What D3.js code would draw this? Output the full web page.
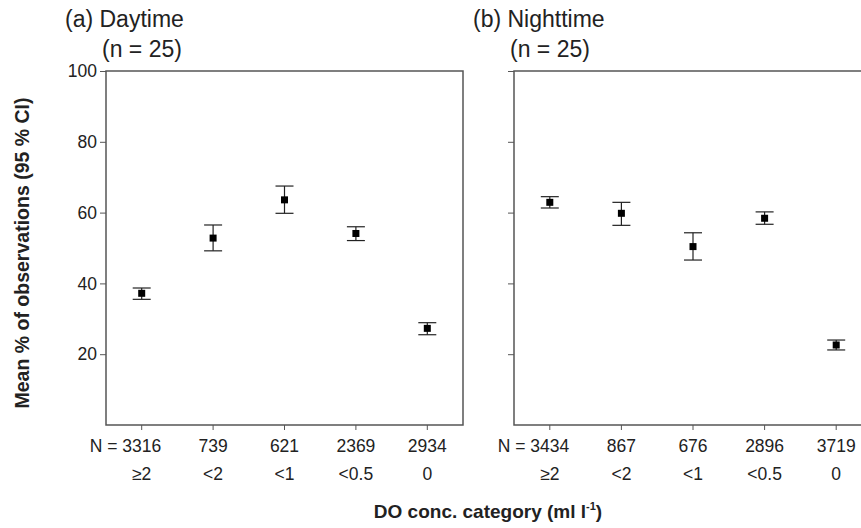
<!DOCTYPE html>
<html>
<head>
<meta charset="utf-8">
<script src="https://cdn.jsdelivr.net/npm/d3@7"></script>
<style>
  body { margin: 0; background: #fff; }
  svg { display: block; font-family: "Liberation Sans", Arial, sans-serif; }
</style>
</head>
<body>
<div id="chartContainer"></div>
<script>
var categories = ["\u22652", "<2", "<1", "<0.5", "0"];
var yTicks = [20, 40, 60, 80, 100];

var dayN = [3316, 739, 621, 2369, 2934];
var dayMean = [37.2, 52.8, 63.6, 54.1, 27.3];
var dayLow = [35.5, 49.2, 59.8, 52.1, 25.5];
var dayHigh = [38.7, 56.5, 67.5, 56.0, 28.9];

var nightN = [3434, 867, 676, 2896, 3719];
var nightMean = [62.9, 59.8, 50.4, 58.4, 22.6];
var nightLow = [61.3, 56.4, 46.6, 56.7, 21.2];
var nightHigh = [64.5, 62.9, 54.3, 60.2, 24.0];

var width = 861, height = 528;
var plotTop = 71, plotBottom = 425;

var svg = d3.select("#chartContainer")
    .append("svg")
    .attr("width", width)
    .attr("height", height);

var y = d3.scaleLinear().domain([0, 100]).range([plotBottom, plotTop]);

function panel(x0, x1, title, ns, means, lows, highs, showLabels) {
    var x = d3.scaleBand().domain(categories).range([x0, x1]);
    var g = svg.append("g");

    // frame
    g.append("rect")
        .attr("x", x0).attr("y", plotTop)
        .attr("width", x1 - x0).attr("height", plotBottom - plotTop)
        .attr("fill", "none")
        .attr("stroke", "#555")
        .attr("stroke-width", 1.5);

    // y axis
    var yAxis = d3.axisLeft(y).tickValues(yTicks).tickSize(6).tickPadding(3)
        .tickFormat(showLabels ? d3.format("d") : function(){ return ""; });
    var ya = g.append("g").attr("transform", "translate(" + x0 + ",0)").call(yAxis);
    ya.select(".domain").remove();
    ya.selectAll("line").attr("stroke", "#555");
    ya.selectAll("text").attr("font-size", 17.5).attr("fill", "#222").attr("font-family", null);

    // x ticks
    var xAxis = d3.axisBottom(x).tickSize(5).tickFormat("");
    var xa = g.append("g").attr("transform", "translate(0," + plotBottom + ")").call(xAxis);
    xa.select(".domain").remove();
    xa.selectAll("line").attr("stroke", "#555");

    // N labels
    var nl = g.selectAll(".nlab")
        .data(ns)
        .enter()
        .append("text")
        .attr("x", function(d, i) { return x(categories[i]) + x.bandwidth() / 2; })
        .attr("y", 452)
        .attr("text-anchor", "middle")
        .attr("font-size", 17.5)
        .attr("fill", "#222")
        .text(function(d) { return d; });
    var firstW = nl.node().getComputedTextLength();
    g.append("text")
        .attr("x", x(categories[0]) + x.bandwidth() / 2 - firstW / 2)
        .attr("y", 452)
        .attr("text-anchor", "end")
        .attr("font-size", 17.5)
        .attr("fill", "#222")
        .attr("xml:space", "preserve")
        .text("N = ");

    // category labels
    g.selectAll(".clab")
        .data(categories)
        .enter()
        .append("text")
        .attr("x", function(d) { return x(d) + x.bandwidth() / 2; })
        .attr("y", 480)
        .attr("text-anchor", "middle")
        .attr("font-size", 17.5)
        .attr("fill", "#222")
        .text(function(d) { return d; });

    // error bars
    var bars = g.selectAll(".eb")
        .data(means)
        .enter()
        .append("g")
        .attr("transform", function(d, i) {
            return "translate(" + (x(categories[i]) + x.bandwidth() / 2) + ",0)";
        });
    bars.append("line")
        .attr("y1", function(d, i) { return y(lows[i]); })
        .attr("y2", function(d, i) { return y(highs[i]); })
        .attr("stroke", "#222").attr("stroke-width", 1.2);
    bars.append("line")
        .attr("x1", -9).attr("x2", 9)
        .attr("y1", function(d, i) { return y(lows[i]); })
        .attr("y2", function(d, i) { return y(lows[i]); })
        .attr("stroke", "#222").attr("stroke-width", 1.2);
    bars.append("line")
        .attr("x1", -9).attr("x2", 9)
        .attr("y1", function(d, i) { return y(highs[i]); })
        .attr("y2", function(d, i) { return y(highs[i]); })
        .attr("stroke", "#222").attr("stroke-width", 1.2);
    bars.append("rect")
        .attr("x", -3.5).attr("width", 7)
        .attr("y", function(d) { return y(d) - 3.5; })
        .attr("height", 7)
        .attr("fill", "#000");

    // titles
    g.append("text")
        .attr("x", x0 - 41).attr("y", 27)
        .attr("font-size", 23).attr("fill", "#222")
        .text(title);
    g.append("text")
        .attr("x", x0 - 4).attr("y", 57)
        .attr("font-size", 23).attr("fill", "#222")
        .text("(n = 25)");
}

panel(106, 463, "(a) Daytime", dayN, dayMean, dayLow, dayHigh, true);
panel(514, 872, "(b) Nighttime", nightN, nightMean, nightLow, nightHigh, false);

// axis titles
svg.append("text")
    .attr("transform", "translate(29,253) rotate(-90)")
    .attr("text-anchor", "middle")
    .attr("font-size", 19.5)
    .attr("font-weight", "bold")
    .attr("fill", "#222")
    .text("Mean % of observations (95 % CI)");

var xt = svg.append("text")
    .attr("x", 488).attr("y", 518)
    .attr("text-anchor", "middle")
    .attr("font-size", 19)
    .attr("font-weight", "bold")
    .attr("fill", "#222");
xt.append("tspan").text("DO conc. category (ml l");
xt.append("tspan").attr("font-size", 11).attr("dy", -8).text("-1");
xt.append("tspan").attr("dy", 8).text(")");
</script>
</body>
</html>
